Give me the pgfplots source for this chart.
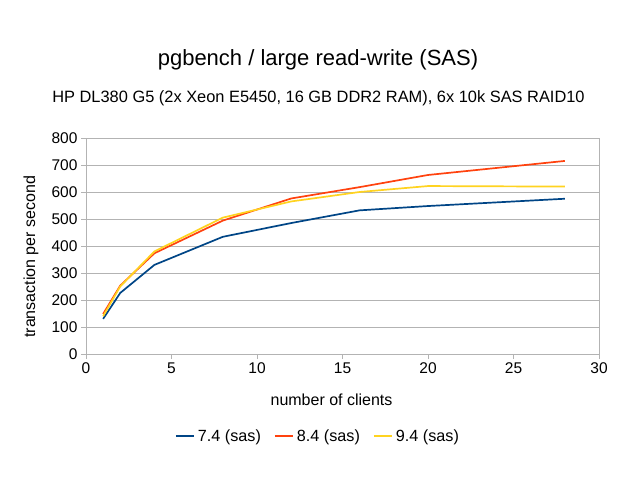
\documentclass[border=0pt]{standalone}
\usepackage{pgfplots}
\pgfplotsset{compat=1.18}
\usepackage{fontspec}
\setmainfont{Liberation Sans}
\definecolor{c74}{HTML}{004586}
\definecolor{c84}{HTML}{FF420E}
\definecolor{c94}{HTML}{FFD320}
\definecolor{gridc}{HTML}{B3B3B3}
\begin{document}
\begin{tikzpicture}[x=1bp,y=1bp]
\useasboundingbox (0,0) rectangle (638,479);
\node[font=\fontsize{22bp}{26bp}\selectfont] at (318,419) {pgbench / large read-write (SAS)};
\node[font=\fontsize{16.4bp}{20bp}\selectfont] at (318.5,381) {HP DL380 G5 (2x Xeon E5450, 16 GB DDR2 RAM), 6x 10k SAS RAID10};
\begin{axis}[
  at={(86bp,125bp)}, anchor=south west,
  scale only axis, width=513bp, height=216bp,
  xmin=0, xmax=30, ymin=0, ymax=800,
  xtick={0,5,...,30}, ytick={0,100,...,800},
  ymajorgrids, grid style={gridc, line width=0.8bp},
  axis line style={gridc, line width=0.8bp},
  tick style={gridc, line width=0.8bp},
  tick align=outside, major tick length=5bp,
  xtick pos=bottom, ytick pos=left,
  /pgf/number format/assume math mode=true,
  /pgf/number format/set thousands separator={},
  ticklabel style={font=\fontsize{15.5bp}{18bp}\selectfont, black},
  xlabel={number of clients},
  ylabel={transaction per second},
  label style={font=\fontsize{16bp}{19bp}\selectfont},
  xlabel style={at={(axis description cs:0.4786,-0.213)}, anchor=center},
  ylabel style={at={(axis description cs:-0.107,0.45)}, anchor=center, rotate=0},
  legend columns=3,
  legend style={at={(axis description cs:0.4522,-0.3796)}, anchor=center, draw=none, fill=none,
    font=\fontsize{16.2bp}{19bp}\selectfont, /tikz/every even column/.append style={column sep=11bp},
    /tikz/every odd column/.append style={column sep=1bp}},
  legend image code/.code={\draw[#1, line width=2bp] (0bp,0bp) -- (18bp,0bp);},
  every axis plot/.append style={line width=1.7bp, line join=round},
]
\addplot[c74] coordinates {(1,130) (2,226) (4,330) (8,434) (12,485) (16,532) (20,548) (28,575)};
\addlegendentry{7.4 (sas)}
\addplot[c84] coordinates {(1,148) (2,253) (4,373) (8,494) (12,576) (16,618) (20,663) (28,715)};
\addlegendentry{8.4 (sas)}
\addplot[c94] coordinates {(1,140) (2,250) (4,380) (8,505) (12,565) (16,600) (20,622) (28,620)};
\addlegendentry{9.4 (sas)}
\end{axis}
\end{tikzpicture}
\end{document}
